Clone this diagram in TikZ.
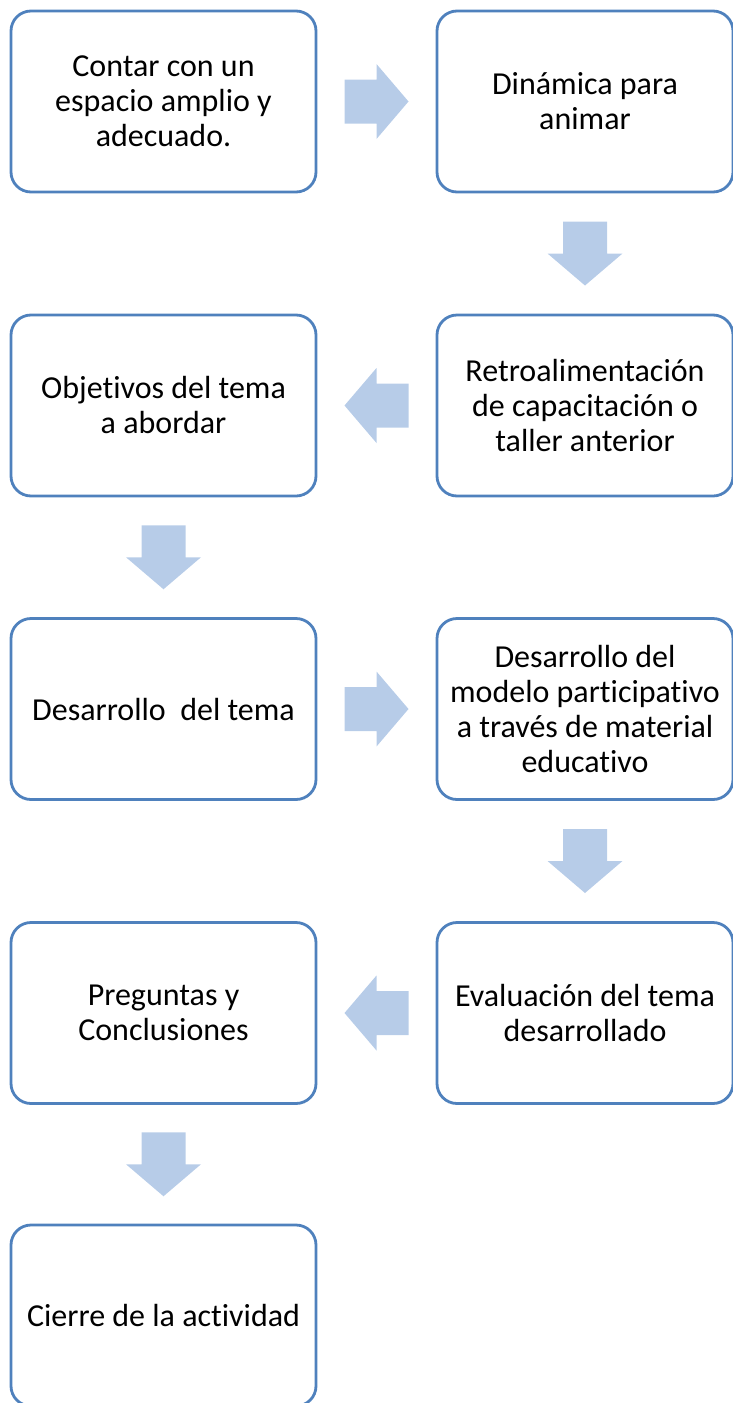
\documentclass[tikz,border=0pt]{standalone}
\usepackage{fontspec}
\setmainfont[Ligatures={NoCommon}]{Carlito}
\usetikzlibrary{calc}
\definecolor{boxline}{HTML}{4F81BD}
\definecolor{arrowfill}{HTML}{B7CCE8}
\tikzset{
  stepbox/.style={draw=boxline, line width=2.8pt, rounded corners=20pt, fill=white,
    minimum height=181pt, align=center, inner sep=2pt,
    font=\fontsize{32}{35}\selectfont},
  lbox/.style={stepbox, minimum width=305pt},
  rbox/.style={stepbox, minimum width=296pt},
  blockarrow/.pic={
    \fill[arrowfill] (-32,-22) -- (0,-22) -- (0,-37.5) -- (32,0) -- (0,37.5) -- (0,22) -- (-32,22) -- cycle;
  }
}
\begin{document}
\begin{tikzpicture}[x=1pt,y=1pt]
\useasboundingbox (0,0) rectangle (733,-1403);
\node[lbox] (b1) at (163.5,-101.5) {Contar con un\\espacio amplio y\\adecuado.};
\node[rbox] (b2) at (585,-101.5) {Dinámica para\\animar};
\node[rbox] (b3) at (585,-405.5) {Retroalimentación\\de capacitación o\\taller anterior};
\node[lbox] (b4) at (163.5,-405.5) {Objetivos del tema\\a abordar};
\node[lbox] (b5) at (163.5,-709) {Desarrollo\ \ del tema};
\node[rbox] (b6) at (585,-709) {Desarrollo del\\modelo participativo\\a través de material\\educativo};
\node[rbox] (b7) at (585,-1013) {Evaluación del tema\\desarrollado};
\node[lbox] (b8) at (163.5,-1013) {Preguntas y\\Conclusiones};
\node[lbox] (b9) at (163.5,-1315.5) {Cierre de la actividad};
\pic at ($(b1.east)!0.5!(b2.west)$) {blockarrow};
\pic[rotate=-90] at ($(b2.south)!0.5!(b3.north)$) {blockarrow};
\pic[rotate=180] at ($(b3.west)!0.5!(b4.east)$) {blockarrow};
\pic[rotate=-90] at ($(b4.south)!0.5!(b5.north)$) {blockarrow};
\pic at ($(b5.east)!0.5!(b6.west)$) {blockarrow};
\pic[rotate=-90] at ($(b6.south)!0.5!(b7.north)$) {blockarrow};
\pic[rotate=180] at ($(b7.west)!0.5!(b8.east)$) {blockarrow};
\pic[rotate=-90] at ($(b8.south)!0.5!(b9.north)$) {blockarrow};
\end{tikzpicture}
\end{document}
